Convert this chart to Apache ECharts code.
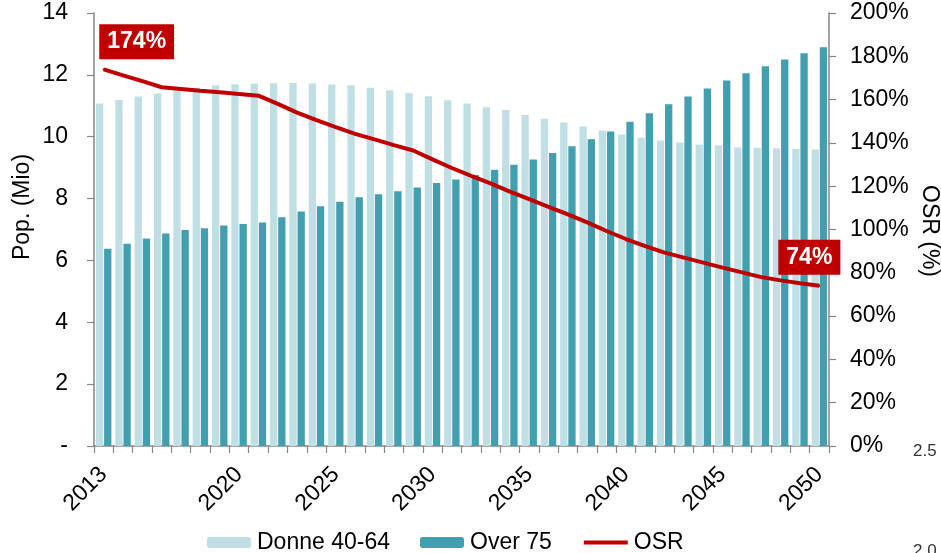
<!DOCTYPE html>
<html>
<head>
<meta charset="utf-8">
<script src="https://cdn.jsdelivr.net/npm/echarts@6/dist/echarts.min.js"></script>
<style>
  html, body { margin: 0; padding: 0; background: #ffffff; }
  #chart { width: 941px; height: 553px; }
</style>
</head>
<body>
<div id="chart"></div>
<script>
// Projection years
const years = ['2013','2014','2015','2016','2017','2018','2019','2020','2021','2022',
  '2023','2024','2025','2026','2027','2028','2029','2030','2031','2032',
  '2033','2034','2035','2036','2037','2038','2039','2040','2041','2042',
  '2043','2044','2045','2046','2047','2048','2049','2050'];

// Years that carry a tick label on the category axis
const labelledYears = ['2013','2020','2025','2030','2035','2040','2045','2050'];

// Women aged 40-64, millions
const donne40_64 = [11.07, 11.19, 11.30, 11.40, 11.50, 11.58, 11.66, 11.70, 11.72, 11.73,
  11.74, 11.72, 11.69, 11.66, 11.58, 11.50, 11.41, 11.31, 11.18, 11.07,
  10.95, 10.86, 10.70, 10.58, 10.46, 10.33, 10.20, 10.07, 9.97, 9.88,
  9.81, 9.75, 9.72, 9.66, 9.64, 9.63, 9.60, 9.59];

// Population aged 75 and over, millions
const over75 = [6.38, 6.54, 6.71, 6.87, 6.98, 7.04, 7.13, 7.18, 7.23, 7.40,
  7.58, 7.75, 7.90, 8.04, 8.14, 8.24, 8.36, 8.50, 8.62, 8.76,
  8.93, 9.09, 9.26, 9.47, 9.69, 9.92, 10.17, 10.48, 10.76, 11.05,
  11.30, 11.56, 11.82, 12.05, 12.28, 12.50, 12.70, 12.89];

// Old-age support ratio, percent
const osr = [174, 171.2, 168.5, 165.7, 164.9, 164.1, 163.4, 162.6, 161.8, 158,
  154, 150.5, 147.3, 144.2, 141.6, 139, 136.5, 132.4, 128.4, 124.8,
  121.3, 117.5, 114, 110.5, 107, 103.3, 99.3, 95.6, 92.3, 89.3,
  87, 84.7, 82.4, 80.2, 78, 76.5, 75.2, 74];

const FONT = 'Liberation Sans, Arial, Helvetica, sans-serif';
const FS = 23;
const AXIS_GREY = '#868686';
const LIGHT = '#C0DFE5';
const TEAL = '#419FB0';
const RED = '#C00000';

// Boxed value label for an OSR end point
function boxLabel(offsetX, dist) {
  return {
    show: true,
    position: 'top',
    distance: dist,
    offset: [offsetX, 0],
    formatter: p => Math.round(p.value[1]) + '%',
    backgroundColor: RED,
    color: '#ffffff',
    fontFamily: FONT,
    fontWeight: 'bold',
    fontSize: FS,
    lineHeight: 23,
    padding: [6, 8]
  };
}

const lastIdx = osr.length - 1;
// First and last OSR values, annotated
const osrEnds = [
  { value: [years[0], osr[0]], label: boxLabel(33, 9) },
  { value: [years[lastIdx], osr[lastIdx]], label: boxLabel(-10, 10) }
];

const chart = echarts.init(document.getElementById('chart'), null, { renderer: 'canvas' });

chart.setOption({
  animation: false,
  backgroundColor: '#ffffff',
  textStyle: { fontFamily: FONT },
  grid: { left: 94, right: 112, top: 13, bottom: 107, containLabel: false },
  legend: {
    left: 207,
    top: 531,
    padding: 0,
    itemWidth: 44,
    itemHeight: 11,
    itemGap: 30,
    textStyle: { fontFamily: FONT, fontSize: FS, color: '#000000', padding: [0, 0, 0, 1] },
    data: [
      'Donne 40-64',
      'Over 75',
      { name: 'OSR', itemStyle: { opacity: 0 }, lineStyle: { color: RED, width: 4 } }
    ]
  },
  xAxis: {
    type: 'category',
    data: years,
    boundaryGap: true,
    axisLine: { show: true, lineStyle: { color: AXIS_GREY, width: 1.5 } },
    axisTick: { show: true, interval: 0, length: 7, lineStyle: { color: AXIS_GREY, width: 1.2 } },
    axisLabel: {
      interval: (i, v) => labelledYears.includes(v),
      rotate: 45,
      margin: 25,
      fontFamily: FONT,
      fontSize: FS,
      color: '#000000'
    },
    splitLine: { show: false }
  },
  yAxis: [
    {
      type: 'value',
      min: 0,
      max: 14,
      interval: 2,
      position: 'left',
      axisLine: { show: true, lineStyle: { color: AXIS_GREY, width: 1.5 } },
      axisTick: { show: true, length: 7, lineStyle: { color: AXIS_GREY, width: 1.2 } },
      axisLabel: {
        margin: 26,
        fontFamily: FONT,
        fontSize: FS,
        color: '#000000',
        formatter: v => (v === 0 ? '-' : String(v))
      },
      splitLine: { show: false }
    },
    {
      type: 'value',
      min: 0,
      max: 200,
      interval: 20,
      position: 'right',
      axisLine: { show: true, lineStyle: { color: AXIS_GREY, width: 1.5 } },
      axisTick: { show: true, length: 7, lineStyle: { color: AXIS_GREY, width: 1.2 } },
      axisLabel: {
        margin: 21,
        fontFamily: FONT,
        fontSize: FS,
        color: '#000000',
        formatter: '{value}%'
      },
      splitLine: { show: false }
    }
  ],
  graphic: [
    {
      type: 'text', x: 23, y: 207, rotation: Math.PI / 2,
      style: { text: 'Pop. (Mio)', fontFamily: FONT, fontSize: FS, fill: '#000000', align: 'center', verticalAlign: 'middle' }
    },
    {
      type: 'text', x: 929, y: 231, rotation: -Math.PI / 2,
      style: { text: 'OSR (%)', fontFamily: FONT, fontSize: FS, fill: '#000000', align: 'center', verticalAlign: 'middle' }
    },
    {
      type: 'text', x: 913, y: 451,
      style: { text: '2.5', fontFamily: FONT, fontSize: 17, fill: '#333333', align: 'left', verticalAlign: 'middle' }
    },
    {
      type: 'text', x: 913, y: 551,
      style: { text: '2.0', fontFamily: FONT, fontSize: 17, fill: '#333333', align: 'left', verticalAlign: 'middle' }
    }
  ],
  series: [
    {
      name: 'Donne 40-64',
      type: 'bar',
      yAxisIndex: 0,
      data: donne40_64,
      barWidth: 7.3,
      barGap: '12%',
      itemStyle: { color: LIGHT },
      z: 2
    },
    {
      name: 'Over 75',
      type: 'bar',
      yAxisIndex: 0,
      data: over75,
      barWidth: 7.3,
      barGap: '12%',
      itemStyle: { color: TEAL },
      z: 2
    },
    {
      name: 'OSR',
      type: 'line',
      yAxisIndex: 1,
      data: osr,
      symbol: 'none',
      lineStyle: { color: RED, width: 4 },
      itemStyle: { color: RED },
      z: 5
    },
    {
      name: 'OSR end labels',
      type: 'scatter',
      yAxisIndex: 1,
      data: osrEnds,
      symbol: 'circle',
      symbolSize: 2,
      itemStyle: { color: RED, opacity: 1 },
      z: 6
    }
  ]
});
</script>
</body>
</html>
